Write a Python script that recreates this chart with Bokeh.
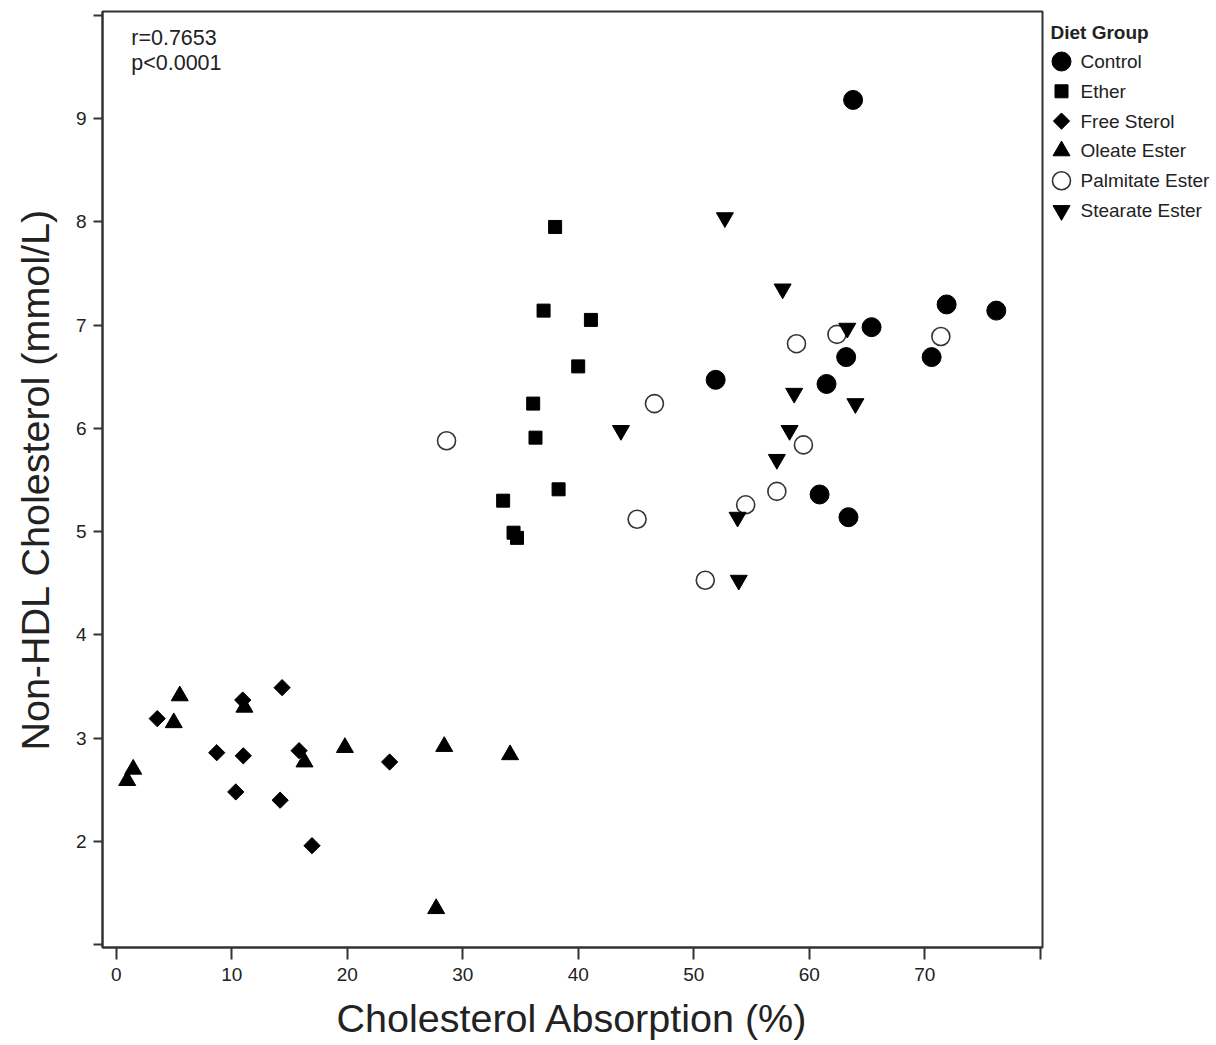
import math
from bokeh.plotting import figure
from bokeh.layouts import row
from bokeh.models import FixedTicker, Label, Range1d
from bokeh.core.properties import value
from bokeh.embed import file_html
from bokeh.resources import INLINE

# ---- data ----
groups = ["Control", "Ether", "Free Sterol", "Oleate Ester", "Palmitate Ester", "Stearate Ester"]

control_x = [63.8, 76.2, 71.9, 65.4, 70.6, 63.2, 61.5, 51.9, 60.9, 63.4]
control_y = [9.18, 7.14, 7.20, 6.98, 6.69, 6.69, 6.43, 6.47, 5.36, 5.14]

ether_x = [38.0, 37.0, 41.1, 40.0, 36.1, 36.3, 38.3, 33.5, 34.4, 34.7]
ether_y = [7.95, 7.14, 7.05, 6.60, 6.24, 5.91, 5.41, 5.30, 4.99, 4.94]

free_x = [3.55, 8.70, 11.0, 10.95, 14.36, 10.35, 14.19, 15.83, 16.95, 23.67]
free_y = [3.19, 2.86, 2.83, 3.37, 3.49, 2.48, 2.40, 2.88, 1.96, 2.77]

oleate_x = [0.95, 1.47, 4.98, 5.50, 11.1, 16.3, 19.8, 28.4, 34.1, 27.7]
oleate_y = [2.59, 2.70, 3.15, 3.41, 3.30, 2.77, 2.91, 2.92, 2.84, 1.35]

palm_x = [28.6, 45.1, 46.6, 51.0, 54.5, 57.2, 59.5, 58.9, 62.4, 71.4]
palm_y = [5.88, 5.12, 6.24, 4.53, 5.26, 5.39, 5.84, 6.82, 6.91, 6.89]

stear_x = [52.7, 57.7, 63.3, 58.7, 64.0, 43.7, 58.3, 57.2, 53.8, 53.9]
stear_y = [8.04, 7.35, 6.97, 6.34, 6.24, 5.98, 5.98, 5.70, 5.14, 4.53]

x_ticks = [0, 10, 20, 30, 40, 50, 60, 70, 80]
y_ticks = [1, 2, 3, 4, 5, 6, 7, 8, 9, 10]
stat_lines = ["r=0.7653", "p<0.0001"]

x_title = "Cholesterol Absorption (%)"
y_title = "Non-HDL Cholesterol (mmol/L)"
legend_title = "Diet Group"

FONT = "Liberation Sans"
INK = "#222222"
H = 1043
TOP, BOTTOM = 11, 96

# marker styles per group (same order as groups)
styles = [
    dict(marker="circle", size=19, fill_color="black", line_color="black", line_width=1, angle=0),
    dict(marker="square", size=13, fill_color="black", line_color="black", line_width=1, angle=0),
    dict(marker="square", size=11.5, fill_color="black", line_color="black", line_width=1, angle=math.pi / 4),
    dict(marker="triangle", size=17, fill_color="black", line_color="black", line_width=1, angle=0),
    dict(marker="circle", size=18, fill_color="white", line_color="#333333", line_width=1.6, angle=0),
    dict(marker="inverted_triangle", size=17, fill_color="black", line_color="black", line_width=1, angle=0),
]
series = [(control_x, control_y), (ether_x, ether_y), (free_x, free_y),
          (oleate_x, oleate_y), (palm_x, palm_y), (stear_x, stear_y)]

p = figure(width=1044, height=H, output_backend="svg", toolbar_location=None,
           x_range=Range1d(-1.19, 80.2), y_range=Range1d(0.974, 10.036),
           min_border_left=102, min_border_right=2, min_border_top=TOP, min_border_bottom=BOTTOM,
           background_fill_color="white", border_fill_color="white")

p.xgrid.visible = False
p.ygrid.visible = False
p.outline_line_color = "#333333"
p.outline_line_width = 2

for ax in (p.xaxis[0], p.yaxis[0]):
    ax.axis_line_color = "#333333"
    ax.axis_line_width = 2
    ax.major_tick_line_color = "#333333"
    ax.major_tick_line_width = 2
    ax.major_tick_in = 0
    ax.minor_tick_line_color = None
    ax.major_label_text_font = FONT
    ax.major_label_text_font_size = "19px"
    ax.major_label_text_color = INK
    ax.axis_label_text_font = FONT
    ax.axis_label_text_font_size = "39.5px"
    ax.axis_label_text_font_style = "normal"
    ax.axis_label_text_color = INK

p.xaxis.ticker = FixedTicker(ticks=x_ticks)
p.yaxis.ticker = FixedTicker(ticks=y_ticks)
p.xaxis.major_label_overrides = {x_ticks[-1]: ""}
p.yaxis.major_label_overrides = {y_ticks[0]: "", y_ticks[-1]: ""}
p.xaxis.major_tick_out = 12
p.yaxis.major_tick_out = 9
p.xaxis.major_label_standoff = 8
p.yaxis.major_label_standoff = 7
p.xaxis.axis_label = x_title
p.yaxis.axis_label = y_title
p.xaxis.axis_label_standoff = 12
p.yaxis.axis_label_standoff = 16

for (xs, ys), st in zip(series, styles):
    p.scatter(xs, ys, **st)

p.add_layout(Label(x=1.3, y=9.9, text=stat_lines[0], text_baseline="top",
                   text_font=FONT, text_font_size="21.5px", text_color=INK))
p.add_layout(Label(x=1.3, y=9.65, text=stat_lines[1], text_baseline="top",
                   text_font=FONT, text_font_size="21.5px", text_color=INK))

# ---- legend panel (page-pixel coordinates, y downwards) ----
LW = 170
lg = figure(width=LW, height=H, output_backend="svg", toolbar_location=None,
            x_range=Range1d(0, LW), y_range=Range1d(H - BOTTOM, TOP),
            min_border_left=0, min_border_right=0, min_border_top=TOP, min_border_bottom=BOTTOM,
            background_fill_color="white", border_fill_color="white")
lg.axis.visible = False
lg.grid.visible = False
lg.outline_line_color = None

row_y0, row_dy = 61, 29.8
lg.text(x=[6], y=[32], text=[legend_title], text_baseline="middle",
        text_font=value(FONT), text_font_size="19px", text_font_style="bold", text_color=INK)
for i, (g, st) in enumerate(zip(groups, styles)):
    yy = row_y0 + i * row_dy
    lg.scatter([17], [yy], **st)
    lg.text(x=[36], y=[yy], text=[g], text_baseline="middle",
            text_font=value(FONT), text_font_size="19px", text_color=INK)

layout = row(p, lg, spacing=0)
open("out.html", "w").write(file_html(layout, INLINE))
